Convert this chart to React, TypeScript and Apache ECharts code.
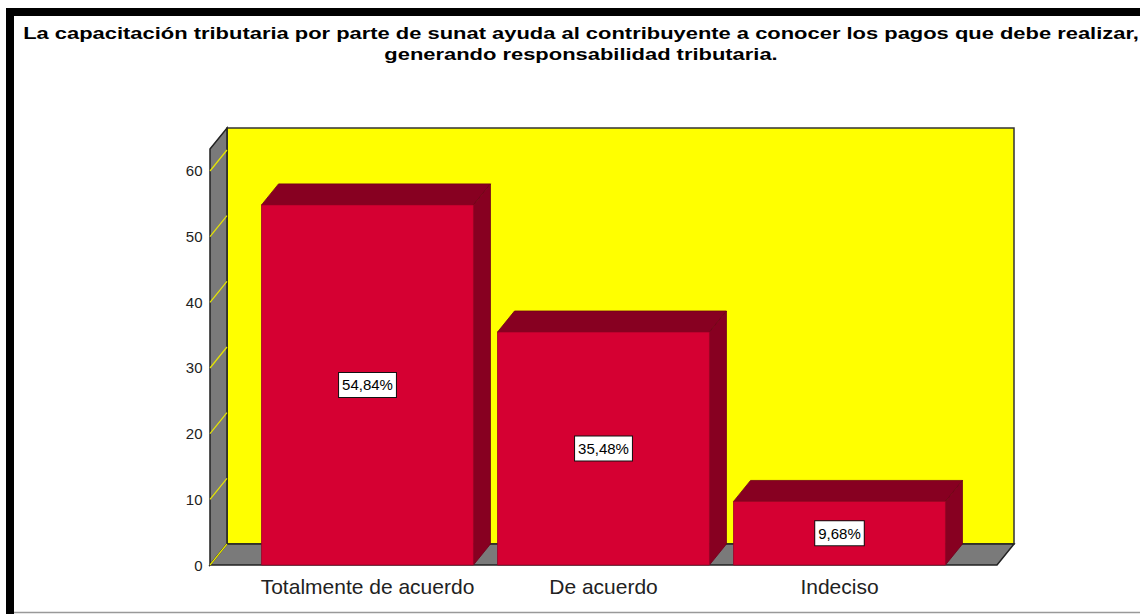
import React, { useEffect, useRef } from "react";
import * as echarts from "echarts";

const TITLE_LINES = [
  "La capacitación tributaria por parte de sunat ayuda al contribuyente a conocer los pagos que debe realizar,",
  "generando responsabilidad tributaria.",
];
const categories = ["Totalmente de acuerdo", "De acuerdo", "Indeciso"];
const percentages = [54.84, 35.48, 9.68];
const percentLabels = ["54,84%", "35,48%", "9,68%"];
const yTicks = [0, 10, 20, 30, 40, 50, 60];
const Y_MAX = 63.35;

const DX = 17;
const DY = -21;
const BAR_FRAC = 0.898;
const SIDE_EXT = 0.1674;
const FONT = '"Liberation Sans", Arial, sans-serif';

export default function App() {
  const ref = useRef<HTMLDivElement>(null);
  useEffect(() => {
    if (!ref.current) return;
    const chart = echarts.init(ref.current, null, { renderer: "svg" });
    const option: any = {
      animation: false,
      backgroundColor: "#ffffff",
      grid: { left: 249.5, right: 182.5, top: 149, bottom: 49 },
      xAxis: {
        type: "category",
        data: categories,
        axisLine: { show: false },
        axisTick: { show: false },
        splitLine: { show: false },
        axisLabel: {
          interval: 0,
          fontSize: 21,
          lineHeight: 21,
          color: "#222",
          fontFamily: FONT,
          margin: 11,
        },
      },
      yAxis: {
        type: "value",
        min: 0,
        max: Y_MAX,
        interval: 10,
        axisLine: { show: false },
        axisTick: { show: false },
        splitLine: { show: false },
        axisLabel: {
          fontSize: 15,
          color: "#222",
          fontFamily: FONT,
          margin: 47,
          formatter: (v: number) => (yTicks.includes(v) ? String(v) : ""),
        },
      },
      graphic: [
        { type: "rect", shape: { x: 6, y: 8, width: 8, height: 606 }, style: { fill: "#000" } },
        { type: "rect", shape: { x: 6, y: 8, width: 1134, height: 8 }, style: { fill: "#000" } },
        {
          type: "line",
          shape: { x1: 14, y1: 612.5, x2: 1140, y2: 612.5 },
          style: { stroke: "#999", lineWidth: 1.5 },
        },
        {
          type: "text",
          x: 581,
          y: 43,
          scaleX: 1.29,
          style: {
            text: TITLE_LINES.join("\n"),
            align: "center",
            verticalAlign: "middle",
            font: `bold 17px ${FONT}`,
            lineHeight: 21,
            fill: "#000",
          },
        },
      ],
      series: [
        {
          type: "custom",
          z: 1,
          silent: true,
          data: [[0, 0]],
          renderItem: (params: any, api: any) => {
            const cs = params.coordSys;
            const band = api.size([1, 0])[0];
            const ext = band * SIDE_EXT;
            const x0 = cs.x - ext;
            const x1 = cs.x + cs.width + ext;
            const yTop = cs.y;
            const yBot = cs.y + cs.height;
            const children: any[] = [
              {
                type: "polygon",
                shape: {
                  points: [
                    [x0 + DX, yTop + DY],
                    [x1 + DX, yTop + DY],
                    [x1 + DX, yBot + DY],
                    [x0 + DX, yBot + DY],
                  ],
                },
                style: { fill: "#ffff00", stroke: "#333", lineWidth: 1.5 },
              },
              {
                type: "polygon",
                shape: {
                  points: [
                    [x0, yTop],
                    [x0 + DX, yTop + DY],
                    [x0 + DX, yBot + DY],
                    [x0, yBot],
                  ],
                },
                style: { fill: "#7a7a7a", stroke: "#222", lineWidth: 1.5 },
              },
              {
                type: "polygon",
                shape: {
                  points: [
                    [x0, yBot],
                    [x0 + DX, yBot + DY],
                    [x1 + DX, yBot + DY],
                    [x1, yBot],
                  ],
                },
                style: { fill: "#7a7a7a", stroke: "#222", lineWidth: 1.5 },
              },
            ];
            yTicks.forEach((t) => {
              const y = api.coord([0, t])[1];
              children.push({
                type: "line",
                shape: { x1: x0, y1: y, x2: x0 + DX, y2: y + DY },
                style: { stroke: "#e6e600", lineWidth: 1.2 },
              });
            });
            return { type: "group", children };
          },
        },
        {
          type: "custom",
          z: 2,
          data: percentages.map((v, i) => [i, v]),
          encode: { x: 0, y: 1 },
          renderItem: (params: any, api: any) => {
            const i = api.value(0);
            const v = api.value(1);
            const base = api.coord([i, 0]);
            const top = api.coord([i, v]);
            const bw = api.size([1, 0])[0] * BAR_FRAC;
            const xl = base[0] - bw / 2;
            const xr = base[0] + bw / 2;
            const yt = top[1];
            const yb = base[1];
            return {
              type: "group",
              children: [
                {
                  type: "polygon",
                  shape: {
                    points: [
                      [xl, yt],
                      [xl + DX, yt + DY],
                      [xr + DX, yt + DY],
                      [xr, yt],
                    ],
                  },
                  style: { fill: "#870021", stroke: "#6e001a", lineWidth: 0.8 },
                },
                {
                  type: "polygon",
                  shape: {
                    points: [
                      [xr, yt],
                      [xr + DX, yt + DY],
                      [xr + DX, yb + DY],
                      [xr, yb],
                    ],
                  },
                  style: { fill: "#870021", stroke: "#6e001a", lineWidth: 0.8 },
                },
                {
                  type: "rect",
                  shape: { x: xl, y: yt, width: bw, height: yb - yt },
                  style: { fill: "#d50032", stroke: "#9a0026", lineWidth: 0.8 },
                },
                {
                  type: "text",
                  x: base[0],
                  y: (yt + yb) / 2,
                  style: {
                    text: percentLabels[params.dataIndex],
                    align: "center",
                    verticalAlign: "middle",
                    font: `15px ${FONT}`,
                    lineHeight: 16,
                    fill: "#000",
                    backgroundColor: "#fff",
                    borderColor: "#111",
                    borderWidth: 1,
                    padding: [4, 3],
                  },
                },
              ],
            };
          },
        },
      ],
    };
    chart.setOption(option);
    return () => chart.dispose();
  }, []);
  return (
    <div
      ref={ref}
      style={{ position: "absolute", left: 0, top: 0, width: 1140, height: 614 }}
    />
  );
}
